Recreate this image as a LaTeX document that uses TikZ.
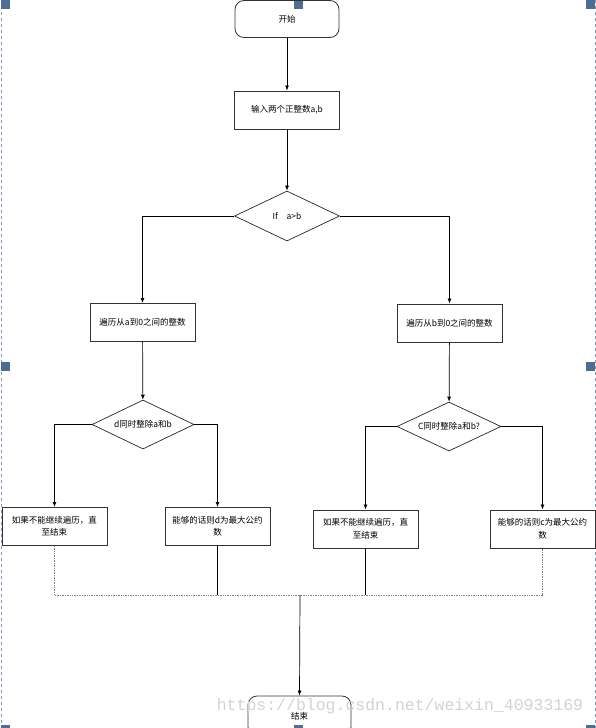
\documentclass[tikz,border=0pt]{standalone}
\usepackage{fontspec}
\setmainfont{Noto Sans CJK SC}
\newfontfamily\markfont{Liberation Mono}
\usetikzlibrary{arrows.meta,positioning,shapes.geometric}
\definecolor{handleblue}{RGB}{79,109,148}
\definecolor{framegray}{RGB}{125,150,190}

\begin{document}
\begin{tikzpicture}[x=1pt, y=-1pt,
        terminal/.style={rectangle, draw=black!80, line width=0.8pt, rounded corners=9pt,
            minimum width=104pt, minimum height=37pt, font=\fontsize{8.5}{10}\selectfont},
        process/.style={rectangle, draw=black!80, line width=1pt, minimum width=105pt,
            minimum height=38pt, font=\fontsize{8.5}{12.5}\selectfont, align=center, inner sep=1pt},
        decision/.style={diamond, draw=black!85, line width=0.7pt, aspect=2, inner sep=0pt,
            minimum width=104pt, minimum height=49pt, font=\fontsize{8.5}{10}\selectfont},
        flow/.style={line width=0.7pt, -{Latex[length=5pt,width=4pt]}},
        plain/.style={line width=0.7pt},
        faint/.style={line width=0.7pt, densely dotted, gray},
        handle/.style={fill=handleblue, draw=none},
    ]
        \useasboundingbox (0,0) rectangle (596,728);

        % Editor frame
        \draw[framegray, dashed, line width=0.6pt] (1,0) -- (1,728);
        \draw[framegray, dashed, line width=0.6pt] (595,0) -- (595,728);
        \foreach \x/\y in {1/0, 294/0, 586/0, 1/362, 586/362, 1/725, 294/725, 586/725} {
            \fill[handle] (\x,\y) rectangle ++(9,9);
        }

        % Top part
        \node[terminal] (start) at (287,19) {开始};
        \node[process] (input) at (287,110) {输入两个正整数a,b};
        \node[decision, minimum width=105pt, minimum height=50pt] (cmp) at (287,216) {If\quad a>b};

        % Loops
        \node[process] (loopa) at (142.5,322.5) {遍历从a到0之间的整数};
        \node[process] (loopb) at (449.5,323) {遍历从b到0之间的整数};

        % Divisibility tests
        \node[decision, minimum width=102pt] (testd) at (143,424.5) {d同时整除a和b};
        \node[decision] (testc) at (449,426.5) {C同时整除a和b?};

        % Results
        \node[process] (stopd) at (54.5,526.5) {如果不能继续遍历，直\\至结束};
        \node[process] (gcdd) at (217.5,526.5) {能够的话则d为最大公约\\数};
        \node[process] (stopc) at (365.5,529) {如果不能继续遍历，直\\至结束};
        \node[process] (gcdc) at (542.5,529) {能够的话则c为最大公约\\数};

        % End
        \node[terminal, minimum width=103pt, minimum height=40pt] (finish) at (299.5,716) {结束};
        \coordinate (merge) at (300,595);

        % Main links
        \draw[flow] (start) -- (input);
        \draw[flow] (input) -- (cmp);
        \draw[flow] (cmp.west) -| (loopa.north);
        \draw[flow] (cmp.east) -| (loopb.north);
        \draw[flow] (loopa) -- (testd);
        \draw[flow] (loopb) -- (testc);
        \draw[flow] (testd.west) -| (stopd.north);
        \draw[flow] (testd.east) -| (gcdd.north);
        \draw[flow] (testc.west) -| (stopc.north);
        \draw[flow] (testc.east) -| (gcdc.north);

        % Merge links
        \draw[faint] (stopd.south) |- (merge);
        \draw[faint] (gcdc.south) |- (merge);
        \draw[plain] (gcdd.south) -- (gcdd.south |- merge);
        \draw[plain] (stopc.south) -- (stopc.south |- merge);
        \draw[flow] (merge) -- (finish.north);

        % Watermark
        \node[text=gray!35, font=\markfont\fontsize{16.5}{18}\selectfont] (mark) at (400,706)
            {https://blog.csdn.net/weixin\_40933169};
    \end{tikzpicture}
\end{document}
